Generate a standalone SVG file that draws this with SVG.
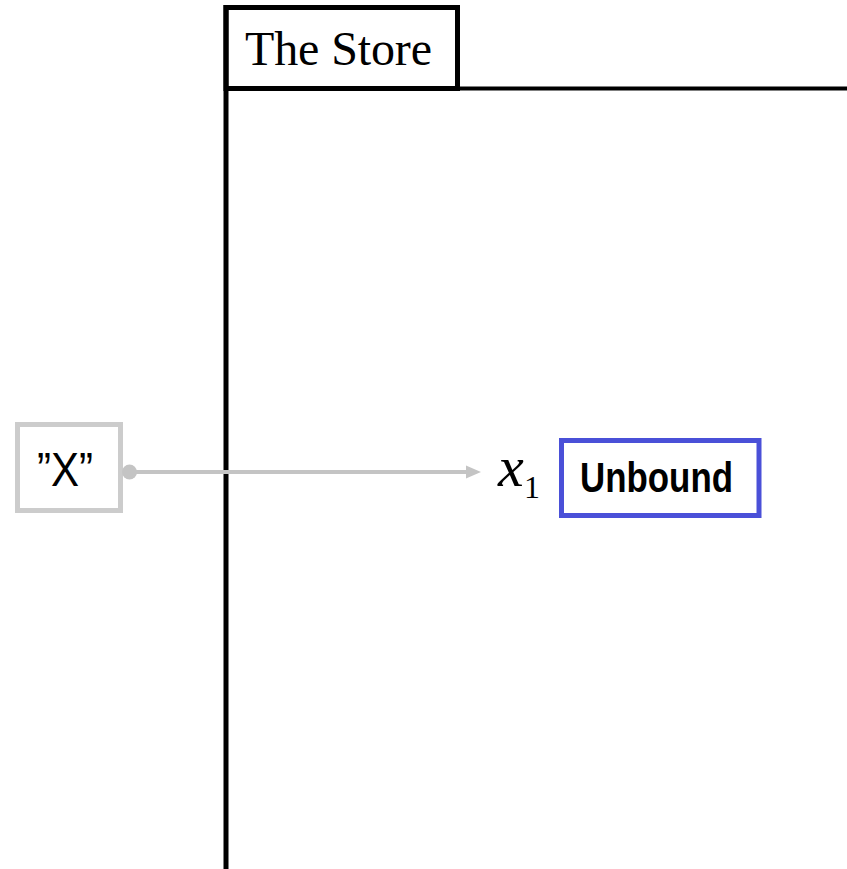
<svg xmlns="http://www.w3.org/2000/svg" width="847" height="869" viewBox="0 0 847 869">
<style>
.frame{fill:none;stroke:#000;stroke-width:5}
.conn{stroke:#c4c4c4;stroke-width:4;fill:none}
</style>
<rect width="847" height="869" fill="#fff"/>
<g id="store">
<line class="frame" x1="226" y1="5" x2="226" y2="869"/>
<line x1="226" y1="88.5" x2="847" y2="88.5" stroke="#000" stroke-width="4"/>
<rect class="frame" x="226" y="7.5" width="231.5" height="81"/>
<text x="245" y="65" font-family="Liberation Serif, serif" font-size="48" textLength="187">The Store</text>
</g>
<g id="x-literal">
<rect x="17.5" y="424.5" width="103" height="86" fill="#fff" stroke="#cccccc" stroke-width="5"/>
<text x="65" y="486" font-family="Liberation Sans, Arial, sans-serif" font-size="49" text-anchor="middle" textLength="56" lengthAdjust="spacingAndGlyphs">”X”</text>
</g>
<g id="connectors">
<line class="conn" x1="130" y1="472" x2="468" y2="472"/>
<circle cx="129.5" cy="472" r="7.5" fill="#c4c4c4"/>
<polygon points="466,465.5 481,472 466,478.5" fill="#c4c4c4"/>
</g>
<g id="x1">
<text x="498" y="486" font-family="Liberation Serif, serif" font-size="58" font-style="italic">x</text>
<text x="524" y="498" font-family="Liberation Serif, serif" font-size="32">1</text>
</g>
<g id="unbound">
<rect x="561.5" y="440.5" width="197.5" height="75" fill="#fff" stroke="#4a50d8" stroke-width="5"/>
<text x="580" y="492" font-family="Liberation Sans, Arial, sans-serif" font-size="42" font-weight="bold" textLength="153" lengthAdjust="spacingAndGlyphs">Unbound</text>
</g>
</svg>
